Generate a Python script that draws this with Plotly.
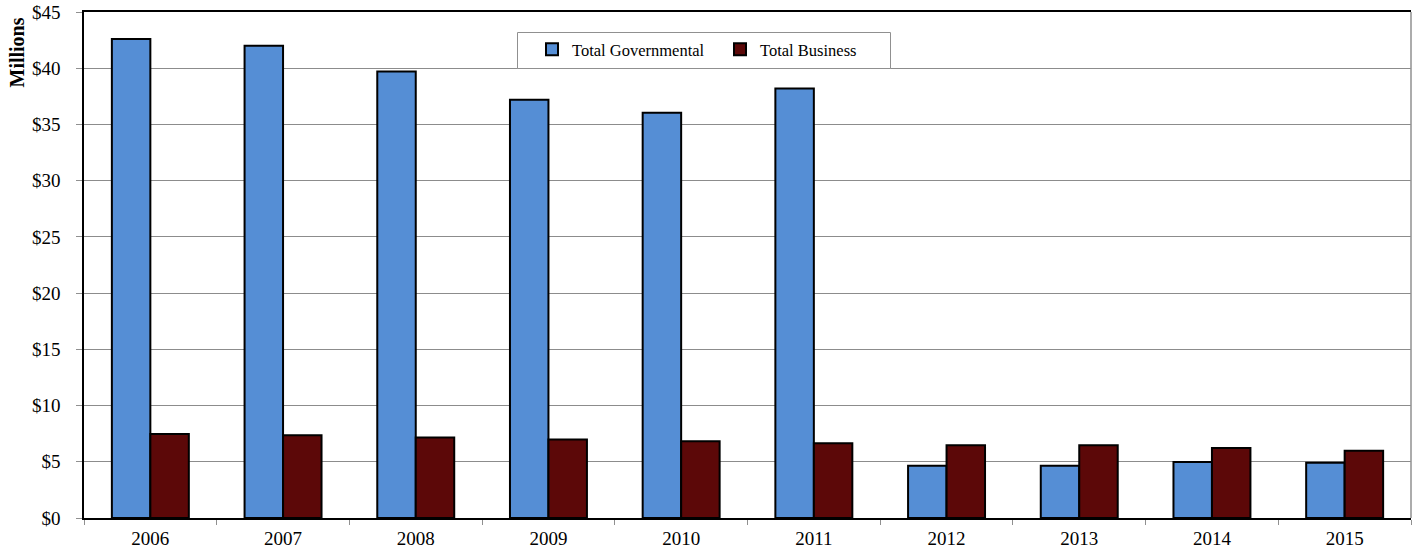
import plotly.graph_objects as go

# Annual totals, millions of dollars
years = ["2006", "2007", "2008", "2009", "2010", "2011", "2012", "2013", "2014", "2015"]
governmental = [42.6, 42.0, 39.7, 37.2, 36.05, 38.2, 4.65, 4.65, 4.98, 4.92]
business = [7.47, 7.35, 7.17, 6.99, 6.82, 6.64, 6.46, 6.46, 6.23, 5.99]

y_ticks = [0, 5, 10, 15, 20, 25, 30, 35, 40, 45]
y_tick_labels = ["$0", "$5", "$10", "$15", "$20", "$25", "$30", "$35", "$40", "$45"]

FONT = "Liberation Serif"

# plot area in pixels, used to place the legend frame and unit label
L, R, T, B = 84, 5, 12, 36
W, H = 1416, 554
PW, PH = W - L - R, H - T - B


def px_x(x):
    return (x - L) / PW


def px_y(y):
    return (H - B - y) / PH


fig = go.Figure()
fig.add_trace(go.Bar(
    x=years, y=governmental, name="Total Governmental",
    marker=dict(color="#558ED5", line=dict(color="#000000", width=2)),
))
fig.add_trace(go.Bar(
    x=years, y=business, name="Total Business",
    marker=dict(color="#5C0808", line=dict(color="#000000", width=2)),
))

fig.update_layout(
    width=W, height=H,
    margin=dict(l=L, r=R, t=T, b=B, autoexpand=False),
    paper_bgcolor="white", plot_bgcolor="white",
    barmode="group", bargap=0.42, bargroupgap=0,
    font=dict(family=FONT, size=19, color="#000000"),
    showlegend=True,
    legend=dict(
        orientation="h", x=px_x(532), y=px_y(49.5), xanchor="left", yanchor="middle",
        bgcolor="rgba(0,0,0,0)", borderwidth=0,
        font=dict(family=FONT, size=16.5, color="#000000"),
        entrywidth=143, itemwidth=30,
    ),
    shapes=[
        # legend frame
        dict(type="rect", xref="paper", yref="paper",
             x0=px_x(517.5), x1=px_x(890.5), y0=px_y(68.5), y1=px_y(32.5),
             line=dict(color="#909090", width=1), fillcolor="white", layer="above"),
        # right frame edge
        dict(type="line", xref="paper", yref="paper", x0=1, x1=1, y0=0, y1=1,
             line=dict(color="#909090", width=1.5)),
    ],
    annotations=[
        # unit label at the top of the value axis
        dict(text="<b>Millions</b>", textangle=-90, showarrow=False,
             xref="paper", yref="paper", x=px_x(17), y=px_y(52.5),
             xanchor="center", yanchor="middle",
             font=dict(family=FONT, size=20, color="#000000")),
    ],
)

fig.update_xaxes(
    type="category", automargin=False,
    showline=True, linecolor="#000000", linewidth=1.5, mirror=True,
    ticks="outside", tickson="boundaries", ticklen=5, tickcolor="#909090",
    showgrid=False,
    tickfont=dict(family=FONT, size=19),
    ticklabelstandoff=2,
)
fig.update_yaxes(
    range=[0, 45], tickmode="array", tickvals=y_ticks, ticktext=y_tick_labels,
    automargin=False,
    showline=True, linecolor="#000000", linewidth=1.5,
    ticks="outside", ticklen=6, tickcolor="#909090",
    showgrid=True, gridcolor="#8c8c8c", gridwidth=1,
    zeroline=False,
    tickfont=dict(family=FONT, size=19),
    ticklabelstandoff=12,
)

fig.write_html("out.html")
